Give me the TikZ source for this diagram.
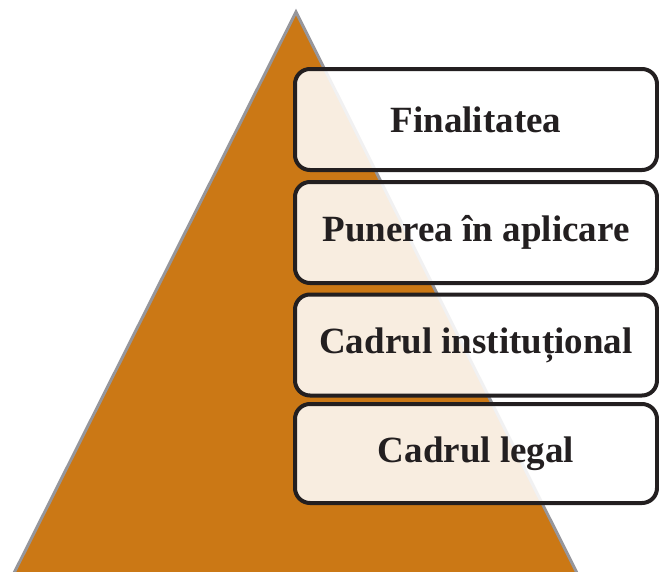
\documentclass[tikz,border=0pt]{standalone}
\usepackage{fontspec}
\setmainfont{Liberation Serif}
\usepackage{tikz}
\usetikzlibrary{positioning, calc}

\definecolor{colPiramida}{RGB}{203, 120, 21}
\definecolor{colMargine}{RGB}{150, 150, 155}
\definecolor{colText}{RGB}{35, 31, 32}

\begin{document}
\begin{tikzpicture}[x=1pt, y=-1pt,
    treapta/.style={draw=colText, line width=4pt, rounded corners=15pt,
        fill=white, fill opacity=0.87, text opacity=1,
        minimum width=362pt, minimum height=101pt, inner sep=0pt,
        text=colText, font=\fontsize{37pt}{44pt}\selectfont\bfseries}]
    \useasboundingbox (0, 0) rectangle (659, 571);

    % --- Piramida ---
    \fill[colPiramida] (296, 12) -- (10.5, 580) -- (580.5, 580) -- cycle;
    \draw[colMargine, line width=3pt, line join=miter] (10.5, 580) -- (296, 12) -- (580.5, 580);

    % --- Treptele ---
    \node[treapta] (fin) at (476, 119.5) {Finalitatea};
    \node[treapta] (pun) at (476, 232.5) {Punerea în aplicare};
    \node[treapta] (inst) at (476, 345) {Cadrul instituțional};
    \node[treapta, minimum height=99pt] (legal) at (476, 453.5) {Cadrul legal};

\end{tikzpicture}
\end{document}
